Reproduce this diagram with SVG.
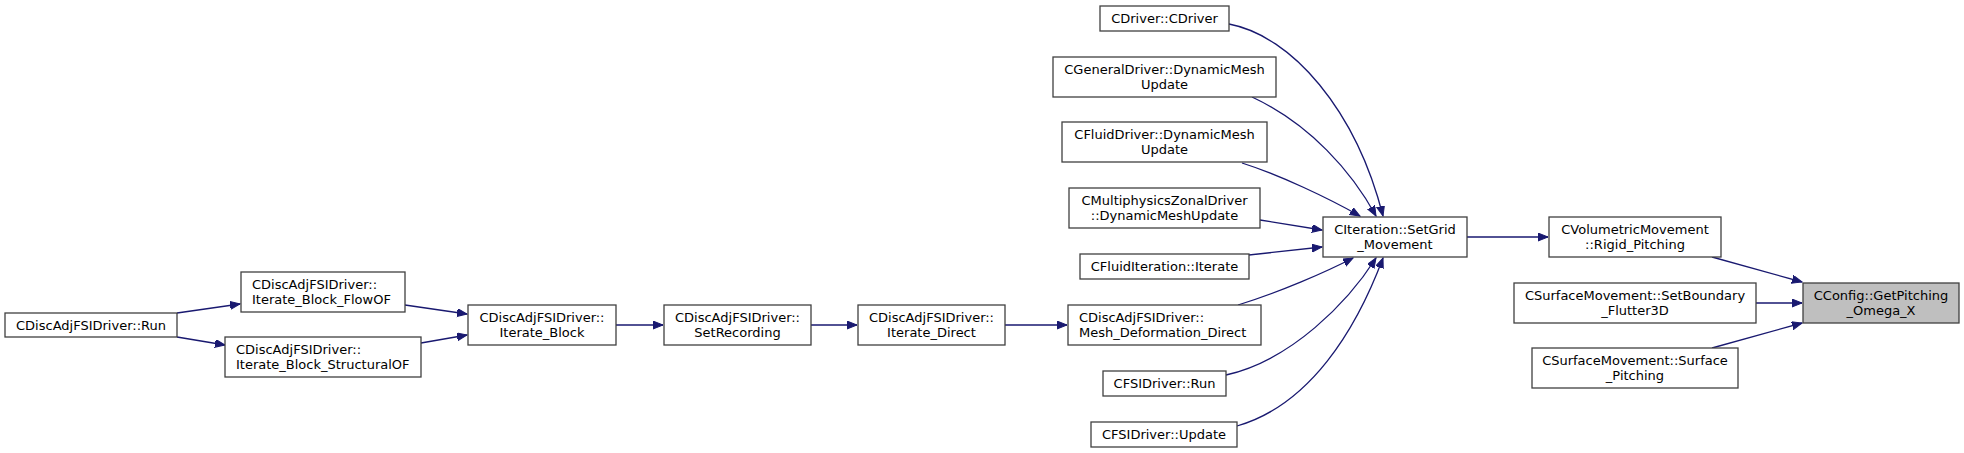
<svg xmlns="http://www.w3.org/2000/svg" width="1964" height="453" viewBox="0 0 1964 453">
<style>
.n rect{fill:#ffffff;stroke:#404040;stroke-width:1.3}
.n.h rect{fill:#bfbfbf}
text{font-family:"DejaVu Sans","Liberation Sans",sans-serif;font-size:13px;fill:#000}
.c{text-anchor:middle}
.e path{fill:none;stroke:#191970;stroke-width:1.3}
</style>
<defs>
<marker id="a" markerWidth="11" markerHeight="9" refX="10" refY="4" orient="auto" markerUnits="userSpaceOnUse">
<path d="M0,0 L10,4 L0,8 z" fill="#191970" stroke="#191970" stroke-width="1"/>
</marker>
</defs>
<rect width="1964" height="453" fill="#ffffff"/>
<g id="edges" class="e">
<path d="M177,313 L240,304" marker-end="url(#a)"/>
<path d="M177,337 L225,345" marker-end="url(#a)"/>
<path d="M405,305 L467,314" marker-end="url(#a)"/>
<path d="M421,343 L467,335" marker-end="url(#a)"/>
<path d="M616,325 L663,325" marker-end="url(#a)"/>
<path d="M811,325 L857,325" marker-end="url(#a)"/>
<path d="M1005,325 L1067,325" marker-end="url(#a)"/>
<path d="M1229,24 C1292,36 1356,110 1383,216" marker-end="url(#a)"/>
<path d="M1252,97 C1310,124 1352,172 1376,216" marker-end="url(#a)"/>
<path d="M1242,163 C1280,175 1328,198 1360,216" marker-end="url(#a)"/>
<path d="M1260,220 L1322,230" marker-end="url(#a)"/>
<path d="M1249,255 L1322,247" marker-end="url(#a)"/>
<path d="M1238,305 C1280,292 1326,272 1353,258" marker-end="url(#a)"/>
<path d="M1226,375 C1292,360 1348,302 1376,258" marker-end="url(#a)"/>
<path d="M1237,426 C1310,405 1356,330 1383,258" marker-end="url(#a)"/>
<path d="M1467,237 L1548,237" marker-end="url(#a)"/>
<path d="M1712,257 L1802,282" marker-end="url(#a)"/>
<path d="M1756,303 L1802,303" marker-end="url(#a)"/>
<path d="M1712,348 L1802,323" marker-end="url(#a)"/>
</g>
<g id="n_run" class="n"><rect x="5" y="313" width="172" height="24"/><text class="c" x="91" y="330">CDiscAdjFSIDriver::Run</text></g>
<g id="n_flowof" class="n"><rect x="241" y="272" width="164" height="40"/><text x="252" y="288.5">CDiscAdjFSIDriver::</text><text x="252" y="303.5">Iterate_Block_FlowOF</text></g>
<g id="n_structof" class="n"><rect x="225" y="337" width="196" height="40"/><text x="236" y="353.5">CDiscAdjFSIDriver::</text><text x="236" y="368.5">Iterate_Block_StructuralOF</text></g>
<g id="n_iterblock" class="n"><rect x="468" y="305" width="148" height="40"/><text class="c" x="542" y="321.5">CDiscAdjFSIDriver::</text><text class="c" x="542" y="336.5">Iterate_Block</text></g>
<g id="n_setrec" class="n"><rect x="664" y="305" width="147" height="40"/><text class="c" x="737.5" y="321.5">CDiscAdjFSIDriver::</text><text class="c" x="737.5" y="336.5">SetRecording</text></g>
<g id="n_iterdirect" class="n"><rect x="858" y="305" width="147" height="40"/><text class="c" x="931.5" y="321.5">CDiscAdjFSIDriver::</text><text class="c" x="931.5" y="336.5">Iterate_Direct</text></g>
<g id="n_meshdef" class="n"><rect x="1068" y="305" width="193" height="40"/><text x="1079" y="321.5">CDiscAdjFSIDriver::</text><text x="1079" y="336.5">Mesh_Deformation_Direct</text></g>
<g id="n_cdriver" class="n"><rect x="1100" y="6" width="129" height="25"/><text class="c" x="1164.5" y="23">CDriver::CDriver</text></g>
<g id="n_general" class="n"><rect x="1053" y="57" width="223" height="40"/><text class="c" x="1164.5" y="73.5">CGeneralDriver::DynamicMesh</text><text class="c" x="1164.5" y="88.5">Update</text></g>
<g id="n_fluiddrv" class="n"><rect x="1062" y="122" width="205" height="40"/><text class="c" x="1164.5" y="138.5">CFluidDriver::DynamicMesh</text><text class="c" x="1164.5" y="153.5">Update</text></g>
<g id="n_multi" class="n"><rect x="1069" y="188" width="191" height="40"/><text class="c" x="1164.5" y="204.5">CMultiphysicsZonalDriver</text><text class="c" x="1164.5" y="219.5">::DynamicMeshUpdate</text></g>
<g id="n_fluiditer" class="n"><rect x="1080" y="254" width="169" height="25"/><text class="c" x="1164.5" y="271">CFluidIteration::Iterate</text></g>
<g id="n_fsirun" class="n"><rect x="1103" y="371" width="123" height="25"/><text class="c" x="1164.5" y="388">CFSIDriver::Run</text></g>
<g id="n_fsiupdate" class="n"><rect x="1091" y="422" width="146" height="25"/><text class="c" x="1164" y="439">CFSIDriver::Update</text></g>
<g id="n_setgrid" class="n"><rect x="1323" y="217" width="144" height="40"/><text class="c" x="1395" y="233.5">CIteration::SetGrid</text><text class="c" x="1395" y="248.5">_Movement</text></g>
<g id="n_rigid" class="n"><rect x="1549" y="217" width="172" height="40"/><text class="c" x="1635" y="233.5">CVolumetricMovement</text><text class="c" x="1635" y="248.5">::Rigid_Pitching</text></g>
<g id="n_flutter" class="n"><rect x="1514" y="283" width="242" height="40"/><text class="c" x="1635" y="299.5">CSurfaceMovement::SetBoundary</text><text class="c" x="1635" y="314.5">_Flutter3D</text></g>
<g id="n_surfpitch" class="n"><rect x="1532" y="348" width="206" height="40"/><text class="c" x="1635" y="364.5">CSurfaceMovement::Surface</text><text class="c" x="1635" y="379.5">_Pitching</text></g>
<g id="n_config" class="n h"><rect x="1803" y="283" width="156" height="40"/><text class="c" x="1881" y="299.5">CConfig::GetPitching</text><text class="c" x="1881" y="314.5">_Omega_X</text></g>
</svg>
